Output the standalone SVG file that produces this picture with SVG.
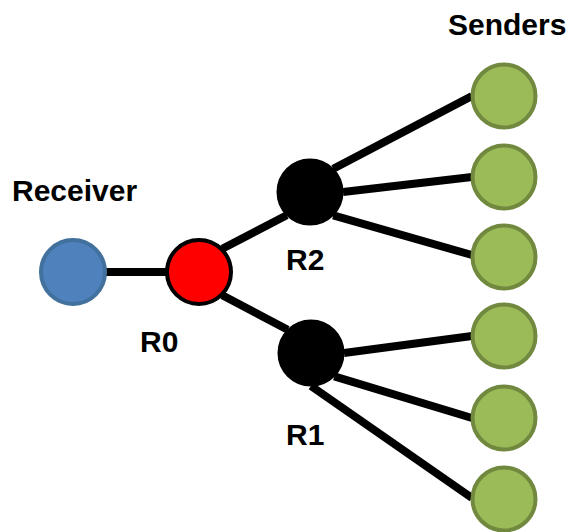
<svg xmlns="http://www.w3.org/2000/svg" width="572" height="532" viewBox="0 0 572 532">
<style>
.lbl{font-family:"Liberation Sans",Arial,sans-serif;font-weight:bold;font-size:30px;fill:#000}
.edge{stroke:#000;stroke-width:8;fill:none}
.sender{fill:#9BBB59;stroke:#71893F;stroke-width:4}
.router{fill:#000;stroke:#000;stroke-width:3}
</style>
<rect width="572" height="532" fill="#fff"/>
<g id="connectors">
<line class="edge" x1="105" y1="272" x2="167" y2="272"/>
<line class="edge" x1="222.3" y1="248.7" x2="286.7" y2="215.3"/>
<line class="edge" x1="222.3" y1="295.3" x2="287.7" y2="329.7"/>
<line class="edge" x1="333.3" y1="168.7" x2="472" y2="96"/>
<line class="edge" x1="343" y1="192" x2="472" y2="177"/>
<line class="edge" x1="333.3" y1="215.3" x2="472" y2="255"/>
<line class="edge" x1="344" y1="353" x2="472" y2="336"/>
<line class="edge" x1="334.3" y1="376.3" x2="472" y2="418"/>
<line class="edge" x1="311" y1="386" x2="472" y2="498"/>
</g>
<g id="receiver">
<circle cx="73" cy="272" r="32" fill="#4F81BD" stroke="#41719C" stroke-width="4"/>
<text class="lbl" x="12" y="201" font-size="31">Receiver</text>
</g>
<g id="R0">
<circle cx="199" cy="272" r="32" fill="#FF0000" stroke="#000" stroke-width="4"/>
<text class="lbl" x="140" y="352">R0</text>
</g>
<g id="R2">
<circle class="router" cx="310" cy="192" r="32"/>
<text class="lbl" x="286" y="270">R2</text>
</g>
<g id="R1">
<circle class="router" cx="311" cy="353" r="32"/>
<text class="lbl" x="286" y="445">R1</text>
</g>
<g id="senders-label"><text class="lbl" x="448" y="35">Senders</text></g>
<g id="s1"><circle class="sender" cx="504" cy="96" r="31.5"/></g>
<g id="s2"><circle class="sender" cx="504" cy="177" r="31.5"/></g>
<g id="s3"><circle class="sender" cx="504" cy="257" r="31.5"/></g>
<g id="s4"><circle class="sender" cx="504" cy="336" r="31.5"/></g>
<g id="s5"><circle class="sender" cx="504" cy="418" r="31.5"/></g>
<g id="s6"><circle class="sender" cx="504" cy="499" r="31.5"/></g>
</svg>
